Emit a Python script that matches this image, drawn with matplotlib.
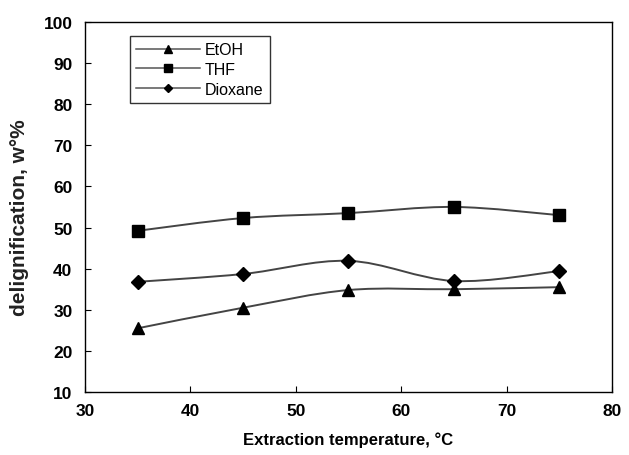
import matplotlib
matplotlib.use('Agg')
import matplotlib.pyplot as plt
from matplotlib.path import Path
from matplotlib.patches import PathPatch
import numpy as np

plt.rcParams['font.family'] = ['Liberation Sans', 'DejaVu Sans']

temps    = [35, 45, 55, 65, 75]
etoh     = [25.5, 30.5, 34.8, 35.0, 35.5]
thf      = [49.2, 52.3, 53.5, 55.0, 53.0]
dioxane  = [36.8, 38.7, 41.9, 37.0, 39.4]

series = [
  ('EtOH',    etoh,    '^', 9),
  ('THF',     thf,     's', 9),
  ('Dioxane', dioxane, 'D', 7),
]

def smooth_path( x, y ):
  # Excel-style smoothed line: Catmull-Rom as cubic Bezier segments
  x = np.asarray( x, float ); y = np.asarray( y, float )
  verts = [ (x[0], y[0]) ]
  codes = [ Path.MOVETO ]
  n = len(x)
  for i in range(n - 1):
    p0 = (x[max(i-1, 0)], y[max(i-1, 0)])
    p1 = (x[i], y[i])
    p2 = (x[i+1], y[i+1])
    p3 = (x[min(i+2, n-1)], y[min(i+2, n-1)])
    c1 = (p1[0] + (p2[0]-p0[0])/6, p1[1] + (p2[1]-p0[1])/6)
    c2 = (p2[0] - (p3[0]-p1[0])/6, p2[1] - (p3[1]-p1[1])/6)
    verts += [c1, c2, p2]
    codes += [Path.CURVE4]*3
  return Path( verts, codes )

fig = plt.figure( figsize=(6.29, 4.56), dpi=100 )
ax = fig.add_axes( [0.135, 0.138, 0.838, 0.812] )

lc = '#444444'
for name, vals, mk, ms in series:
  ax.add_patch( PathPatch( smooth_path( temps, vals ), facecolor='none',
                           edgecolor=lc, linewidth=1.4, zorder=2 ) )
  ax.plot( temps, vals, linestyle='none', marker=mk, markersize=ms,
           color='black', zorder=3 )
  # legend proxy
  ax.plot( [], [], '-', color='#555555', linewidth=1.1, marker=mk,
           markersize=ms*0.65, markerfacecolor='black',
           markeredgecolor='black', label=name )

ax.set_xlim(30, 80)
ax.set_ylim(10, 100)
ax.set_xticks([30, 40, 50, 60, 70, 80])
ax.set_yticks(range(10, 101, 10))
ax.tick_params( direction='in', length=4, width=0.8, labelsize=12.5 )
ax.tick_params( axis='y', pad=9 )
ax.tick_params( axis='x', pad=8 )
for t in ax.get_xticklabels() + ax.get_yticklabels():
  t.set_fontweight('bold')
for s in ax.spines.values():
  s.set_linewidth(1.0)
  s.set_color('black')

ax.set_xlabel( 'Extraction temperature, \u00b0C', fontsize=12,
               fontweight='bold', va='top' )
ax.xaxis.set_label_coords( 0.5, -0.105 )
ax.set_ylabel( 'delignification, w\u00b0%', fontsize=15,
               fontweight='bold', va='center', color='#222222' )
ax.yaxis.set_label_coords( -0.125, 0.475 )

leg = ax.legend( loc='upper left', bbox_to_anchor=(0.085, 0.962),
                 fontsize=11.5, handlelength=4.0, frameon=True,
                 fancybox=False, edgecolor='black', borderpad=0.4,
                 labelspacing=0.3, handletextpad=0.3, borderaxespad=0 )
leg.get_frame().set_linewidth(1.0)

plt.savefig( 'out.png', dpi=100 )
